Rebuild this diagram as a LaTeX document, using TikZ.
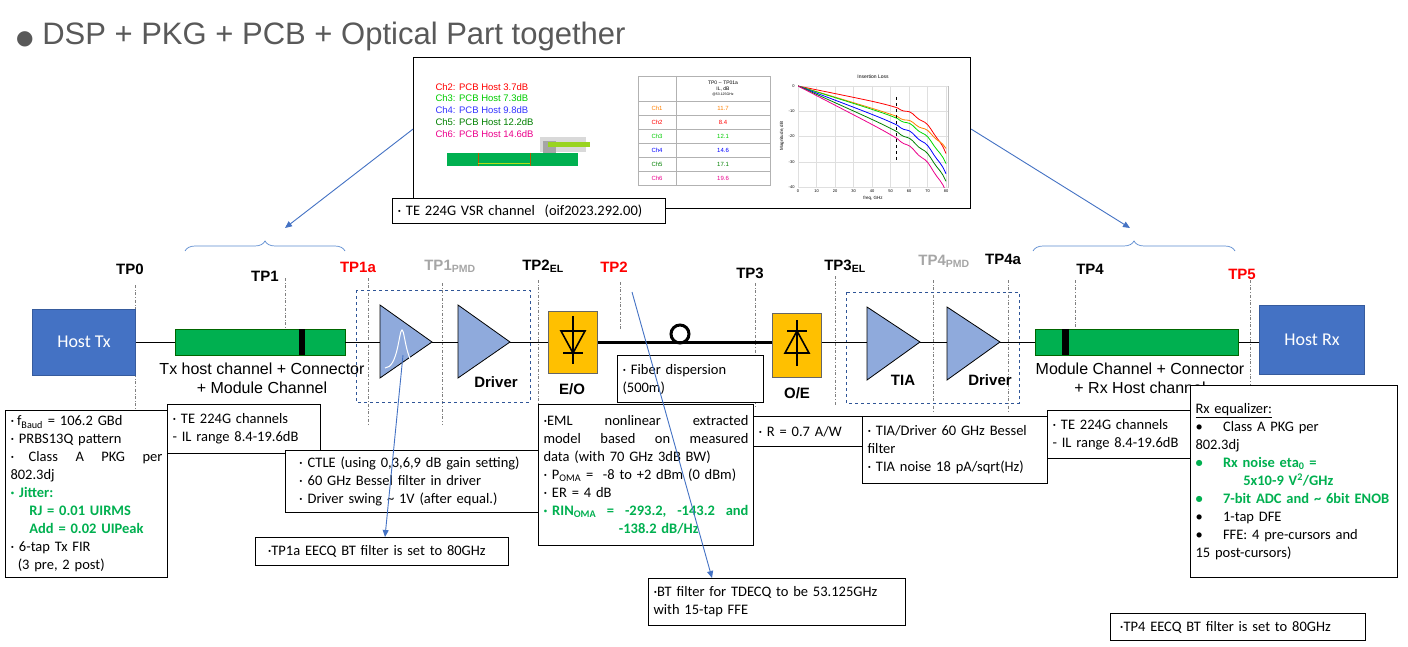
\documentclass[tikz,border=0pt]{standalone}
\usepackage{fontspec}
\setmainfont{Carlito}
\newfontfamily\arial{Liberation Sans}
\usetikzlibrary{decorations.pathreplacing,arrows.meta}
\definecolor{hostblue}{HTML}{4472C4}
\definecolor{chgreen}{HTML}{00B050}
\definecolor{ampblue}{HTML}{8FAADC}
\definecolor{eoorange}{HTML}{FFC000}
\definecolor{dashblue}{HTML}{2F5597}
\definecolor{tpgrey}{HTML}{A6A6A6}
\definecolor{ttl}{HTML}{595959}
\definecolor{brc}{HTML}{5B8BD0}
\begin{document}
\begin{tikzpicture}[x=1pt,y=-1pt,
  tbox/.style={draw,line width=1pt,fill=white,anchor=north west,inner xsep=5pt,inner ysep=2pt,align=left,font=\fontsize{14.5}{18}\selectfont},
  tplab/.style={font=\arial\bfseries\fontsize{15}{15}\selectfont,anchor=south},
  tpline/.style={dash dot,line width=0.6pt,gray},
  amp/.style={draw=black,fill=ampblue,line width=0.8pt},
  blk/.style={font=\arial\bfseries\fontsize{15}{15}\selectfont},
  note/.style={font=\arial\fontsize{16}{19}\selectfont,align=center},
  barrow/.style={draw=hostblue,line width=0.9pt,-{Triangle[length=7pt,width=6pt]}}]
\useasboundingbox (0,0) rectangle (1408,647);
\fill[white] (0,0) rectangle (1408,647);
% title
\node[anchor=west,text=ttl,inner sep=0] (title) at (16,36) {\fontspec{DejaVu Sans}\fontsize{20}{20}\selectfont●\arial\fontsize{31}{31}\selectfont{} DSP + PKG + PCB + Optical Part together};
% top image
\node[draw,line width=1.2pt,minimum width=557pt,minimum height=151pt,anchor=north west,inner sep=0] (topimg) at (413,57) {};
\begin{scope}[font=\arial\fontsize{9.5}{9.5}\selectfont]
\node[anchor=west,text=red] (c2) at (432,87) {Ch2: PCB Host 3.7dB};
\node[anchor=west,text=green!80!black] (c3) at (432,98.5) {Ch3: PCB Host 7.3dB};
\node[anchor=west,text=blue!80!white] (c4) at (432,110) {Ch4: PCB Host 9.8dB};
\node[anchor=west,text=green!50!black] (c5) at (432,122) {Ch5: PCB Host 12.2dB};
\node[anchor=west,text=magenta] (c6) at (432,134) {Ch6: PCB Host 14.6dB};
\end{scope}
\fill[chgreen] (447,153) rectangle (578,166);
\draw[orange!70!black,line width=0.5pt] (478,153) -- (478,166) (530,153) -- (530,166);
\draw[yellow!70!green,line width=1pt] (478,164) -- (530,164);
\fill[gray!30] (540,137) rectangle (586,152);
\fill[gray!70] (543,141) rectangle (556,153);
\fill[yellow!60!green] (548,142) rectangle (590,147);
% table
\draw[gray!60,line width=0.5pt] (638,76) rectangle (770,185);
\draw[gray!60,line width=0.5pt] (676,76) -- (676,185);
\foreach \yy in {101,115,129,143,157,171} \draw[gray!60,line width=0.5pt] (638,\yy) -- (770,\yy);
\node[font=\arial\fontsize{5}{6}\selectfont,align=center] (th) at (723,88) {TP0 -- TP01a\\IL, dB\\[-1pt]{\fontsize{3.5}{4}\selectfont @53.125GHz}};
\foreach \n/\v/\c/\yy in {Ch1/11.7/orange/108,Ch2/8.4/red/122,Ch3/12.1/green!80!black/136,Ch4/14.6/blue/150,Ch5/17.1/green!50!black/164,Ch6/19.6/magenta/178}{
  \node[font=\arial\fontsize{6}{6}\selectfont,text=\c] at (657,\yy) {\n};
  \node[font=\arial\fontsize{6}{6}\selectfont,text=\c] at (723,\yy) {\v};}
% chart
\node[font=\arial\fontsize{5}{5}\selectfont] (chtitle) at (873,77) {Insertion Loss};
\draw[gray!50,line width=0.3pt] (798,86) rectangle (948,187);
\foreach \i in {0,...,8}{\draw[gray!25,line width=0.3pt] ({798+18.5*\i},86) -- ({798+18.5*\i},187);
  \pgfmathtruncatemacro\lab{10*\i}\node[font=\arial\fontsize{4}{4}\selectfont] at ({798+18.5*\i},191) {\lab};}
\foreach \j/\l in {0/0,1/-10,2/-20,3/-30,4/-40}{\draw[gray!25,line width=0.3pt] (798,{86+25.25*\j}) -- (948,{86+25.25*\j});
  \node[font=\arial\fontsize{4}{4}\selectfont,anchor=east] at (798,{86+25.25*\j}) {\l};}
\node[font=\arial\fontsize{4.5}{5}\selectfont] at (873,198) {freq, GHz};
\node[font=\arial\fontsize{4.5}{5}\selectfont,rotate=90] at (782,136) {Magnitude, dB};
\begin{scope}
\clip (798,86) rectangle (948,188);
\foreach \k/\cc/\c in {0.15/15/red,0.22/7.4/orange,0.23/12.6/green!85!black,0.28/12.6/blue,0.33/11.6/green!50!black,0.38/11.6/magenta}
  \draw[\c,line width=0.8pt] plot[domain=0:80,samples=50] ({798+1.85*\x},{86+2.525*(\k*\x+\cc*(\x/80)^8+0.4*sin(40*\x)*(\x>55))});
\end{scope}
\draw[dashed,line width=1pt] (896,97) -- (896,160);
\node[tbox,font=\fontsize{14.5}{16}\selectfont,minimum width=273pt,minimum height=25pt,text width=263pt] (vsr) at (392,198) {· TE 224G VSR channel\ \ (oif2023.292.00)};
% arrows from top box and braces
\coordinate (lt) at (285,228); \coordinate (rt) at (1130,228);
\draw[barrow] (topimg.west) ++(0,-4) -- (lt);
\draw[barrow] (topimg.east) ++(0,-4) -- (rt);
\draw[brc,line width=0.7pt,decorate,decoration={brace,amplitude=10pt}] (185,251) -- (345,251);
\draw[brc,line width=0.7pt,decorate,decoration={brace,amplitude=10pt}] (1033,251) -- (1235,251);
% TP lines
\foreach \xx/\ya/\yb in {135/285/440,285/278/330,368/278/425,442/283/425,538/280/410,620/282/330,755/283/408,835/276/405,933/280/412,1008/280/412,1075/280/330,1250/280/385}
  \draw[tpline] (\xx,\ya) -- (\xx,\yb);
\node[tplab] (tp0) at (130,278) {TP0};
\node[tplab] (tp1) at (265,285) {TP1};
\node[tplab,text=red] (tp1a) at (358,276) {TP1a};
\node[tplab,text=tpgrey] (tp1p) at (450,276) {TP1\textsubscript{PMD}};
\node[tplab] (tp2el) at (543,276) {TP2\textsubscript{EL}};
\node[tplab,text=red] (tp2) at (614,276) {TP2};
\node[tplab] (tp3) at (750,282) {TP3};
\node[tplab] (tp3el) at (845,276) {TP3\textsubscript{EL}};
\node[tplab,text=tpgrey] (tp4p) at (944,271) {TP4\textsubscript{PMD}};
\node[tplab] (tp4a) at (1003,268) {TP4a};
\node[tplab] (tp4) at (1090,278) {TP4};
\node[tplab,text=red] (tp5) at (1242,283) {TP5};
% main chain
\node[draw=hostblue!80!black,fill=hostblue,line width=1pt,minimum width=103pt,minimum height=66pt,text=white,font=\fontsize{18}{18}\selectfont] (htx) at (84,342) {Host Tx};
\node[draw=green!40!black,fill=chgreen,line width=0.8pt,minimum width=170pt,minimum height=26pt,inner sep=0] (gtx) at (260,342) {};
\fill[black] (299,329) rectangle (305,355);
\draw[amp] (380,305) -- (432,342) -- (380,378) -- cycle;
\coordinate (a1in) at (380,342); \coordinate (a1out) at (432,342);
\draw[white,line width=1pt] (385,368) .. controls (398,368) and (399,330) .. (402,330) .. controls (405,330) and (406,368) .. (420,368);
\draw[amp] (458,305) -- (510,342) -- (458,378) -- cycle;
\coordinate (a2in) at (458,342); \coordinate (a2out) at (510,342);
\node[blk] (drv1) at (496,382) {Driver};
\draw[dashed,dashblue,line width=1pt] (356,290) rectangle (530,402);
\node[draw=black!60,fill=eoorange,line width=0.8pt,minimum width=49pt,minimum height=62pt,inner sep=0] (eo) at (573,342) {};
\node[blk] (eolab) at (572,389) {E/O};
\node[draw=black!60,fill=eoorange,line width=0.8pt,minimum width=49pt,minimum height=64pt,inner sep=0] (oe) at (797,345) {};
\node[blk] (oelab) at (797,393) {O/E};
% diodes
\draw[line width=1.6pt] (573,316) -- (573,364) (563,353) -- (583,353);
\draw[line width=1.6pt] (561,331) -- (585,331) -- (573,353) -- cycle;
\draw[line width=1.6pt] (797,320) -- (797,366) (787,331) -- (807,331);
\draw[line width=1.6pt] (785,353) -- (809,353) -- (797,331) -- cycle;
\draw[amp] (867,307) -- (920,342) -- (867,380) -- cycle;
\coordinate (t1in) at (867,342); \coordinate (t1out) at (920,342);
\draw[amp] (947,307) -- (1000,342) -- (947,380) -- cycle;
\coordinate (t2in) at (947,342); \coordinate (t2out) at (1000,342);
\node[blk] (tialab) at (903,380) {TIA};
\node[blk] (drv2) at (990,380) {Driver};
\draw[dashed,dashblue,line width=1pt] (846,292) rectangle (1019,403);
\node[draw=green!40!black,fill=chgreen,line width=0.8pt,minimum width=203pt,minimum height=26pt,inner sep=0] (grx) at (1137,342) {};
\fill[black] (1062,329) rectangle (1069,355);
\node[draw=hostblue!80!black,fill=hostblue,line width=1pt,minimum width=105pt,minimum height=69pt,text=white,font=\fontsize{18}{18}\selectfont] (hrx) at (1312,340) {Host Rx};
\draw[line width=1pt] (htx.east) -- (gtx.west) (gtx.east) -- (a1in) (a1out) -- (a2in) (a2out) -- (eo.west);
\draw[line width=3pt] (eo.east) -- (oe.west |- eo.east);
\draw[line width=3pt] (680,334) circle (9);
\draw[line width=1pt] (oe.east |- t1in) -- (t1in) (t1out) -- (t2in) (t2out) -- (grx.west) (grx.east) -- (hrx.west |- grx.east);
\node[note] (txlab) at (262,378) {Tx host channel + Connector\\+ Module Channel};
\node[note] (rxlab) at (1140,378) {Module Channel + Connector\\+ Rx Host channel};
% boxes
\node[tbox,minimum width=153pt,minimum height=49pt,text width=143pt] (te1) at (167,404) {· TE 224G channels\\- IL range 8.4-19.6dB};
\node[tbox,minimum width=162pt,minimum height=167pt,text width=152pt] (txb) at (5,410) {·\hspace{0.2em}f\textsubscript{Baud} = 106.2 GBd\\
· PRBS13Q pattern\\
·\hspace{1em}Class\hfill A\hfill PKG\hfill per\\802.3dj\\
{\color{chgreen}\bfseries · Jitter:}\\
\hspace*{1.3em}{\color{chgreen}\bfseries RJ = 0.01 UIRMS}\\
\hspace*{1.3em}{\color{chgreen}\bfseries Add = 0.02 UIPeak}\\
· 6-tap Tx FIR\\\hspace*{0.5em}(3 pre, 2 post)};
\node[tbox,minimum width=253pt,minimum height=62pt,text width=243pt] (ctle) at (285,450) {\hspace*{0.6em}· CTLE (using 0,3,6,9 dB gain setting)\\\hspace*{0.6em}· 60 GHz Bessel filter in driver\\\hspace*{0.6em}· Driver swing \textasciitilde{} 1V (after equal.)};
\node[tbox,font=\fontsize{14.5}{16}\selectfont,minimum width=253pt,minimum height=28pt,text width=243pt] (tp1aq) at (255,537) {\hspace*{0.5em}·TP1a EECQ BT filter is set to 80GHz};
\node[tbox,minimum width=146pt,minimum height=47pt,text width=136pt] (fib) at (617,355) {· Fiber dispersion\\(500m)};
\node[tbox,minimum width=215pt,minimum height=141pt,text width=205pt] (eml) at (538,404) {·EML\hfill nonlinear\hfill extracted\\model\hfill based\hfill on\hfill measured\\data (with 70 GHz 3dB BW)\\
· P\textsubscript{OMA} = \ -8 to +2 dBm (0 dBm)\\· ER = 4 dB\\
{\color{chgreen}\bfseries · RIN\textsubscript{OMA}\hfill=\hfill -293.2,\hfill -143.2\hfill and}\\
\hspace*{5.2em}{\color{chgreen}\bfseries -138.2 dB/Hz}};
\node[tbox,minimum width=109pt,minimum height=30pt,text width=99pt] (rr) at (753,416) {· R = 0.7 A/W};
\node[tbox,minimum width=185pt,minimum height=67pt,text width=175pt] (tiab) at (862,416) {· TIA/Driver 60 GHz Bessel\\filter\\· TIA noise 18 pA/sqrt(Hz)};
\node[tbox,minimum width=143pt,minimum height=48pt,text width=133pt] (te2) at (1047,410) {· TE 224G channels\\- IL range 8.4-19.6dB};
\node[tbox,minimum width=207pt,minimum height=192pt,text width=197pt,align=left] (rxb) at (1190,385) {\underline{Rx equalizer:}\\
\textbullet\hspace{1.4em}Class A PKG per\\802.3dj\\
{\color{chgreen}\bfseries\textbullet\hspace{1.4em}Rx noise eta\textsubscript{0} =}\\
\hspace*{3.3em}{\color{chgreen}\bfseries 5x10-9 V\textsuperscript{2}/GHz}\\
{\color{chgreen}\bfseries\textbullet\hspace{1.4em}7-bit ADC and \textasciitilde{} 6bit ENOB}\\
\textbullet\hspace{1.4em}1-tap DFE\\
\textbullet\hspace{1.4em}FFE: 4 pre-cursors and\\15 post-cursors)\\[12pt]};
\node[tbox,font=\fontsize{14.5}{18}\selectfont,minimum width=257pt,minimum height=47pt,text width=247pt] (btf) at (648,578) {·BT filter for TDECQ to be 53.125GHz\\with 15-tap FFE};
\node[tbox,font=\fontsize{14.5}{16}\selectfont,minimum width=255pt,minimum height=27pt,text width=245pt] (tp4q) at (1110,613) {\hspace*{0.3em}·TP4 EECQ BT filter is set to 80GHz};
% blue arrows to notes
\coordinate (p1) at (403,355); \coordinate (p2) at (632,292);
\draw[barrow] (p1) -- (tp1aq.north west -| 385,0);
\draw[barrow] (p2) -- (btf.north west -| 712,0);
\end{tikzpicture}
\end{document}
